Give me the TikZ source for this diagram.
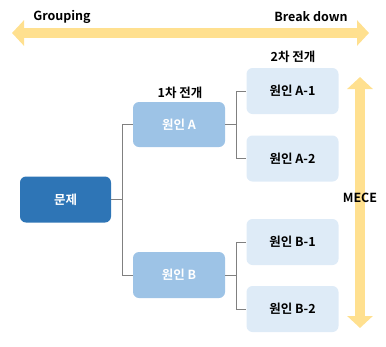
\documentclass[tikz,border=0pt]{standalone}
\usepackage{fontspec}
\setmainfont{Noto Sans CJK KR}[BoldFont={Noto Sans CJK KR Bold}]
\usetikzlibrary{arrows.meta}
\definecolor{probblue}{HTML}{2E75B6}
\definecolor{causeblue}{HTML}{9DC3E6}
\definecolor{subblue}{HTML}{DEEBF7}
\definecolor{linegray}{HTML}{808080}
\definecolor{arrowgold}{HTML}{FFE08F}
\begin{document}
\begin{tikzpicture}[x=1pt,y=-1pt,
  box/.style={rounded corners=6pt, minimum width=92pt, minimum height=46pt, inner sep=0pt,
    font=\bfseries\fontsize{12.5}{14}\selectfont},
  lbl/.style={font=\bfseries\fontsize{12.5}{14}\selectfont},
  link/.style={draw=linegray, line width=0.9pt},
  fatarrow/.style={draw=arrowgold, line width=10pt, {Triangle[length=12pt,width=25pt]}-{Triangle[length=12pt,width=25pt]}}]
\useasboundingbox (0,0) rectangle (386,346);
% top arrow
\coordinate (gL) at (12,33);
\coordinate (gR) at (369,33);
\draw[fatarrow] (gL) -- (gR);
\node[lbl] (grp) at (62,17) {Grouping};
\node[lbl] (brk) at (311,17) {Break down};
% tree
\node[box, fill=probblue, text=white, minimum width=91pt] (prob) at (65.5,199.5) {문제};
\node[box, fill=causeblue, text=white, minimum height=45pt] (causeA) at (179,124.5) {원인 A};
\node[box, fill=causeblue, text=white] (causeB) at (179,275) {원인 B};
\node[box, fill=subblue] (subA1) at (292.5,91) {원인 A-1};
\node[box, fill=subblue] (subA2) at (292.5,158.5) {원인 A-2};
\node[box, fill=subblue] (subB1) at (292.5,242) {원인 B-1};
\node[box, fill=subblue] (subB2) at (292.5,309) {원인 B-2};
\node[lbl] (lvl1) at (180,93) {1차 전개};
\node[lbl] (lvl2) at (293,57) {2차 전개};
\draw[link] (prob.east) -- +(11,0) |- (causeA.west);
\draw[link] (prob.east) -- +(11,0) |- (causeB.west);
\draw[link] (causeA.east) -- +(11,0) |- (subA1.west);
\draw[link] (causeA.east) -- +(11,0) |- (subA2.west);
\draw[link] (causeB.east) -- +(11,0) |- (subB1.west);
\draw[link] (causeB.east) -- +(11,0) |- (subB2.west);
% side arrow
\coordinate (mT) at (360,77);
\coordinate (mB) at (360,328);
\draw[fatarrow] (mT) -- (mB);
\node[lbl] (mece) at (360,198) {MECE};
\end{tikzpicture}
\end{document}
